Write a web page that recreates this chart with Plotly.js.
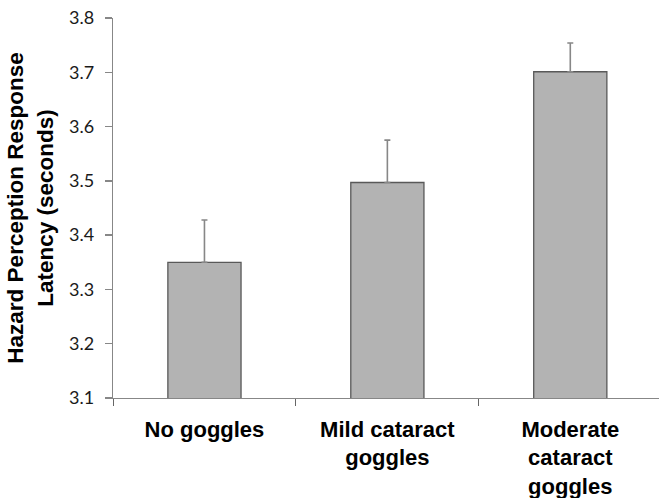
<!DOCTYPE html>
<html>
<head>
<meta charset="utf-8">
<script src="https://cdn.plot.ly/plotly-3.0.1.min.js"></script>
<style>html,body{margin:0;padding:0;background:#fff;}#chart{width:659px;height:498px;}</style>
</head>
<body>
<div id="chart"></div>
<script>
const categories = ["No goggles", "Mild cataract<br>goggles", "Moderate<br>cataract<br>goggles"];
const latency = [3.35, 3.497, 3.701];
const errorPlus = [0.078, 0.078, 0.053];
const yTicks = [3.1, 3.2, 3.3, 3.4, 3.5, 3.6, 3.7, 3.8];
const yTickLabels = ["3.1", "3.2", "3.3", "3.4", "3.5", "3.6", "3.7", "3.8"];

const trace = {
  type: "bar",
  x: categories,
  y: latency,
  base: 0,
  width: 0.4,
  marker: {color: "#b3b3b3", line: {color: "#595959", width: 1.3}},
  error_y: {type: "data", symmetric: false, array: errorPlus, arrayminus: [0,0,0], color: "#878787", thickness: 1.6, width: 3},
  hoverinfo: "none"
};

const layout = {
  width: 659, height: 498,
  margin: {l: 113, r: 0, t: 18, b: 100},
  paper_bgcolor: "#fff", plot_bgcolor: "#fff",
  showlegend: false,
  xaxis: {
    type: "category",
    range: [-0.5, 2.485],
    tickson: "boundaries",
    ticks: "outside", ticklen: 7, tickcolor: "#666", tickwidth: 1,
    showline: true, linecolor: "#878787", linewidth: 1.3,
    showgrid: false, zeroline: false,
    ticklabelstandoff: 11,
    tickfont: {family: "Liberation Sans, Arial, sans-serif", size: 22, color: "#000", weight: "bold"},
    automargin: false
  },
  yaxis: {
    range: [3.1, 3.8],
    tickvals: yTicks, ticktext: yTickLabels,
    ticks: "outside", ticklen: 7, tickcolor: "#878787", tickwidth: 1.3,
    showline: true, linecolor: "#878787", linewidth: 1.3,
    showgrid: false, zeroline: false,
    ticklabelstandoff: 7,
    tickfont: {family: "Lato, Carlito, sans-serif", size: 18, color: "#1a1a1a"},
    title: {text: "<b>Hazard Perception Response<br>Latency (seconds)</b>", font: {family: "Liberation Sans, Arial, sans-serif", size: 22.5, color: "#000"}, standoff: 9},
    automargin: false
  }
};

Plotly.newPlot("chart", [trace], layout, {displayModeBar: false, staticPlot: true});
</script>
</body>
</html>
